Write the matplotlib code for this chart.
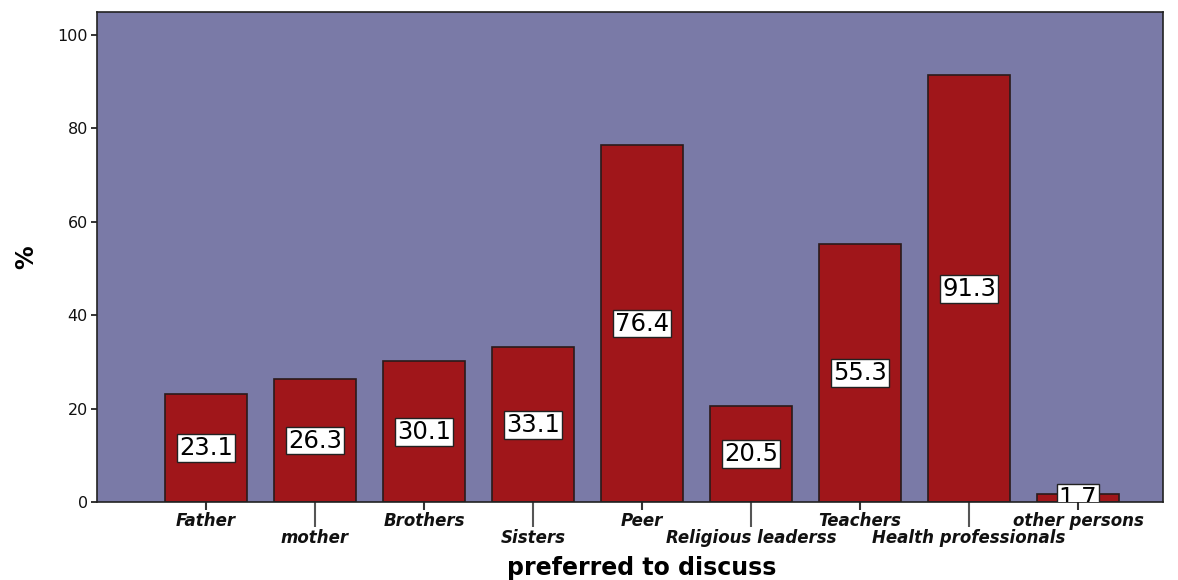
import matplotlib
matplotlib.use('Agg')
import matplotlib.pyplot as plt

# Data
categories = ['Father', 'mother', 'Brothers', 'Sisters', 'Peer',
              'Religious leaderss', 'Teachers', 'Health professionals', 'other persons']
values = [23.1, 26.3, 30.1, 33.1, 76.4, 20.5, 55.3, 91.3, 1.7]

plt.rcParams['font.family'] = ['DejaVu Sans']

fig = plt.figure(figsize=(11.78, 5.8), dpi=100)
ax = fig.add_axes([0.0823, 0.1345, 0.905, 0.845])
ax.set_facecolor('#7A7AA7')

x = list(range(len(categories)))
ax.bar(x, values, width=0.75, color='#A0161A', edgecolor='#2a1a1a', linewidth=1.2)

# value labels in white boxes at mid-height
for xi, v in zip(x, values):
    ax.text(xi, v / 2, f'{v}', ha='center', va='center', fontsize=17.5,
            color='black', clip_on=True,
            bbox=dict(boxstyle='square,pad=0.08', facecolor='white', edgecolor='#222222', linewidth=1))

ax.set_xlim(-1, 8.78)
ax.set_ylim(0, 104.9)
ax.set_yticks([0, 20, 40, 60, 80, 100])
ax.tick_params(axis='y', labelsize=11.5, length=4.5, width=1.2, pad=2, colors='#111111')

# alternating rows: even categories as major ticks (short), odd as minor (long)
ax.set_xticks(x[0::2])
ax.set_xticklabels(categories[0::2])
ax.set_xticks(x[1::2], minor=True)
ax.set_xticklabels(categories[1::2], minor=True)
ax.tick_params(axis='x', which='major', length=6, width=1.5, pad=1.5, color='#333333')
ax.tick_params(axis='x', which='minor', length=18, width=1.5, pad=1.5, color='#555555')
for lab in ax.get_xticklabels(which='both'):
    lab.set_fontsize(12)
    lab.set_fontweight('bold')
    lab.set_fontstyle('italic')
    lab.set_color('#111111')

for s in ax.spines.values():
    s.set_color('#222222')
    s.set_linewidth(1.2)

ax.set_ylabel('%', fontsize=17, fontweight='bold', labelpad=14)
ax.set_xlabel('preferred to discuss', fontsize=17, fontweight='bold')
ax.xaxis.set_label_coords(0.511, -0.11)

plt.savefig('out.png', dpi=100)
